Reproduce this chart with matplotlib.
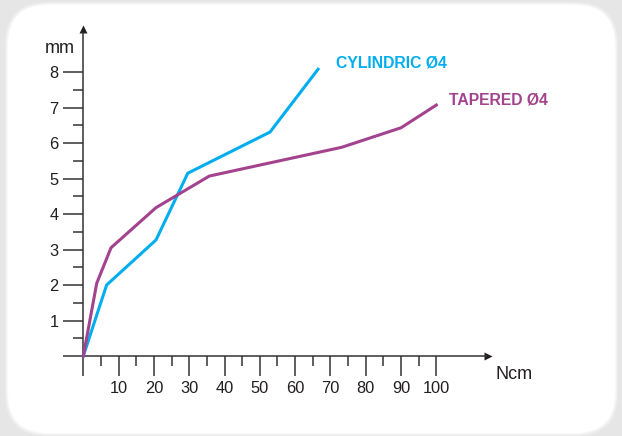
import matplotlib
matplotlib.use('Agg')
import matplotlib.pyplot as plt
from matplotlib.patches import FancyBboxPatch
import numpy as np

plt.rcParams['font.family'] = ['Liberation Sans', 'DejaVu Sans']

# torque (Ncm) vs depth (mm)
cyl_x = [0, 6.6, 20.6, 29.6, 52.9, 66.5]
cyl_y = [0, 2.0, 3.27, 5.15, 6.31, 8.08]
tap_x = [0, 3.8, 7.85, 20.6, 35.7, 73.2, 90, 100]
tap_y = [0, 2.05, 3.05, 4.18, 5.07, 5.88, 6.43, 7.07]
x_ticks = list(range(0, 101, 10))
y_ticks = list(range(0, 9))

blue = '#00aeef'
purple = '#a3428d'
ink = '#231f20'

fig = plt.figure(figsize=(6.22, 4.36), dpi=100, facecolor='#e6e6e6')

# soft shadow + white rounded panel (behind the axes)
for i, c in enumerate(['#ececec', '#f2f2f2', '#f8f8f8']):
    d = 0.03 - i * 0.01
    fig.patches.append(FancyBboxPatch((0.08 - d, 0.03 - d), 6.07 + 2 * d, 4.28 + 2 * d,
                                      boxstyle='round,pad=0,rounding_size=0.42',
                                      transform=fig.dpi_scale_trans, fc=c, ec='none', zorder=-2))
fig.patches.append(FancyBboxPatch((0.08, 0.03), 6.07, 4.28,
                                  boxstyle='round,pad=0,rounding_size=0.4',
                                  transform=fig.dpi_scale_trans, fc='white', ec='none', zorder=-1))

ax = fig.add_axes([0, 0, 1, 1])
ax.patch.set_alpha(0)
ax.set_xlim(-23.6, 152.6)
ax.set_ylim(-2.254, 10.03)

for s in ['top', 'right']:
    ax.spines[s].set_visible(False)
ax.spines['left'].set_position(('data', 0))
ax.spines['bottom'].set_position(('data', 0))
ax.spines['bottom'].set_bounds(0, 114)
ax.spines['left'].set_bounds(0, 9.1)
for s in ['left', 'bottom']:
    ax.spines[s].set_color('#333333')
    ax.spines[s].set_linewidth(1.1)

ax.plot(114.6, 0, marker='>', color=ink, ms=6, clip_on=False, mec='none')
ax.plot(0, 9.2, marker='^', color=ink, ms=6, clip_on=False, mec='none')

ax.set_xticks(x_ticks)
ax.set_xticklabels([''] + [str(v) for v in x_ticks[1:]])
ax.set_xticks(np.arange(5, 100, 10), minor=True)
ax.set_yticks(y_ticks)
ax.set_yticklabels([''] + [str(v) for v in y_ticks[1:]])
ax.set_yticks(np.arange(0.5, 8, 1), minor=True)
ax.tick_params(which='major', direction='out', length=14.4, width=1.1, color='#333333',
               labelsize=11.8, labelcolor=ink, pad=3.5)
ax.tick_params(which='minor', direction='out', length=7, width=1.1, color='#333333')

ax.plot(cyl_x, cyl_y, color=blue, lw=2.2, solid_joinstyle='miter', zorder=3)
ax.plot(tap_x, tap_y, color=purple, lw=2.2, solid_joinstyle='miter', zorder=3)

ax.text(-6.6, 8.65, 'mm', fontsize=13, color=ink, ha='center', va='center')
ax.text(116.9, -0.535, 'Ncm', fontsize=13, color=ink, ha='left', va='center')
ax.text(71.5, 8.245, 'CYLINDRIC Ø4', fontsize=11.3, fontweight='bold', color=blue,
        ha='left', va='center')
ax.text(103.6, 7.21, 'TAPERED Ø4', fontsize=11.3, fontweight='bold', color=purple,
        ha='left', va='center')

fig.savefig('out.png', dpi=100, facecolor=fig.get_facecolor())
